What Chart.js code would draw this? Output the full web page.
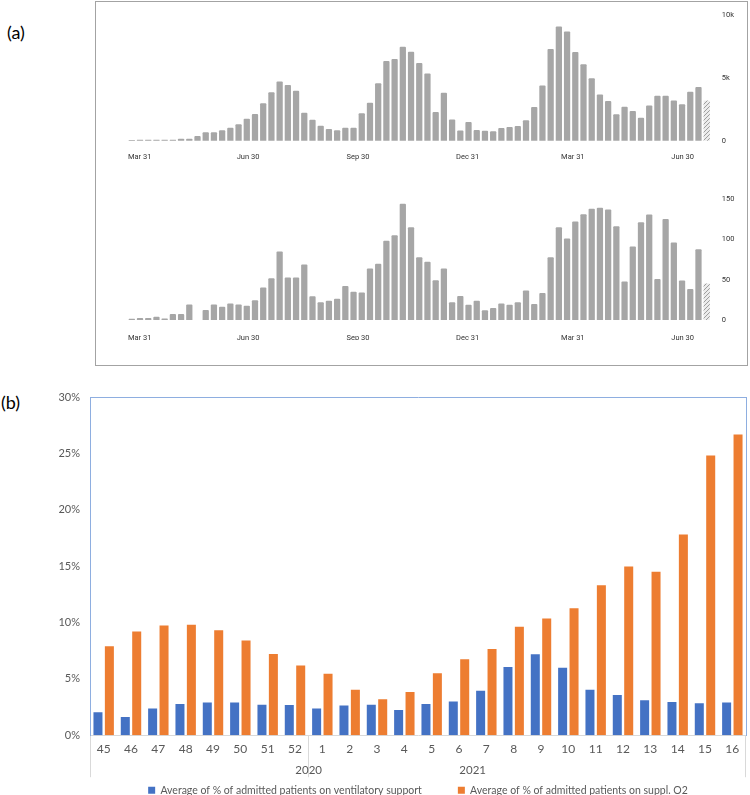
<!DOCTYPE html>
<html>
<head>
<meta charset="utf-8">
<script src="https://cdn.jsdelivr.net/npm/chart.js@4.4.0/dist/chart.umd.min.js"></script>
<style>
body { margin: 0; width: 750px; height: 795px; overflow: hidden; background: #fff; position: relative; font-family: Lato, sans-serif; }
.panel { position: absolute; font-size: 18px; color: #000; }
#boxA { position: absolute; left: 95px; top: 1px; width: 651px; height: 363px; border: 1.5px solid #a3a3a3; }
canvas { position: absolute; left: 0; }
</style>
</head>
<body>
<div class="panel" style="left:7px;top:21px">(a)</div>
<div class="panel" style="left:1px;top:391px">(b)</div>
<div id="boxA"></div>
<canvas id="casesChart" width="750" height="175" style="top:0px"></canvas>
<canvas id="icuChart" width="750" height="190" style="top:170px"></canvas>
<canvas id="oxygenChart" width="750" height="440" style="top:380px"></canvas>
<script>
// (a) weekly counts, one bar per week, last week is partial (hatched)
const weeklyCases = [ // thousands
 0.03, 0.05, 0.05, 0.05, 0.05, 0.05, 0.13, 0.13, 0.34, 0.65,
 0.65, 0.8, 1.0, 1.28, 1.72, 2.1, 2.97, 3.85, 4.7, 4.43,
 3.96, 2.2, 1.64, 1.17, 0.91, 0.8, 1.0, 1.0, 2.16, 3.0,
 4.56, 6.33, 6.5, 7.47, 7.08, 6.17, 5.34, 2.27, 3.8, 1.67,
 0.78, 1.46, 0.83, 0.76, 0.73, 0.99, 1.07, 1.15, 1.61, 2.66,
 4.38, 7.3, 9.1, 8.7, 7.06, 6.07, 4.97, 3.67, 3.15, 2.08,
 2.68, 2.34, 1.8, 2.79, 3.57, 3.57, 3.18, 2.89, 3.88, 4.27,
 3.18
]
const weeklyIcu = [
 1, 2, 2, 3.7, 1.6, 7, 7, 19, null, 12,
 19, 16, 20, 19, 17.4, 24, 40, 51.6, 84.7, 52.5,
 52.5, 68.6, 29, 21.5, 23.6, 26, 41.7, 34.7, 33.9, 63.6,
 69.4, 98, 105, 144, 115, 77.7, 72, 49, 63.6, 21.5,
 29.3, 18.6, 23.6, 11.6, 14.5, 20, 18.6, 21.5, 36.4, 19.4,
 33, 77.7, 115, 100.8, 122, 131, 138, 139, 137, 116,
 47.5, 91, 121, 130.6, 50.4, 125, 96, 48.8, 38, 87.6,
 45
]
const dateTickWeeks = [0.96, 14.15, 27.55, 40.89, 53.7, 67.07]
const dateTickLabels = ["Mar 31", "Jun 30", "Sep 30", "Dec 31", "Mar 31", "Jun 30"]

// (b) ISO weeks by year
const years = ["2020", "2021"]
const weeks2020 = [45, 46, 47, 48, 49, 50, 51, 52]
const weeks2021 = [1, 2, 3, 4, 5, 6, 7, 8, 9, 10, 11, 12, 13, 14, 15, 16]
const ventSupport = [2.04, 1.62, 2.36, 2.77, 2.89, 2.89, 2.71, 2.68,
 2.36, 2.63, 2.71, 2.24, 2.77, 3.0, 3.95, 6.05, 7.17, 5.99, 4.04, 3.57, 3.1, 2.95, 2.83, 2.89]
const supplO2 = [7.88, 9.2, 9.73, 9.79, 9.32, 8.41, 7.2, 6.19,
 5.46, 4.04, 3.2, 3.83, 5.5, 6.73, 7.64, 9.62, 10.35, 11.27, 13.3, 14.96, 14.5, 17.8, 24.8, 26.67]

const smallFont = { family: "Roboto", size: 7.5 }
const barGray = "#a6a6a6"

function hatch() {
 const c = document.createElement("canvas")
 c.width = 4
 c.height = 4
 const g = c.getContext("2d")
 g.fillStyle = "#ececec"
 g.fillRect(0, 0, 4, 4)
 g.strokeStyle = "#9e9e9e"
 g.lineWidth = 1
 g.beginPath()
 g.moveTo(0, 4)
 g.lineTo(4, 0)
 g.stroke()
 return g.createPattern(c, "repeat")
}
const lastWeekFill = hatch()

function weeklyChart(id, values, yMax, yStep, fmt, pad, tickPad) {
 return new Chart(document.getElementById(id), {
  type: "bar",
  data: {
   datasets: [{
    data: values.map((v, i) => ({ x: i, y: v })),
    backgroundColor: values.map((v, i) => i === values.length - 1 ? lastWeekFill : barGray),
    barThickness: 5.6,
    borderRadius: 1
   }]
  },
  options: {
   responsive: false,
   animation: false,
   layout: { padding: pad },
   plugins: { legend: { display: false }, tooltip: { enabled: false } },
   scales: {
    x: {
     type: "linear",
     offset: false,
     min: -0.5,
     max: values.length - 0.5,
     grid: { display: false, drawTicks: false },
     border: { display: false },
     afterBuildTicks: s => { s.ticks = dateTickWeeks.map(v => ({ value: v })) },
     afterFit: s => { s.height = 20 },
     ticks: {
      autoSkip: false,
      maxRotation: 0,
      padding: tickPad,
      color: "#333",
      font: smallFont,
      callback: v => dateTickLabels[dateTickWeeks.indexOf(v)]
     }
    },
    y: {
     position: "right",
     min: 0,
     max: yMax,
     grid: { display: false, drawTicks: false },
     border: { display: false },
     afterFit: s => { s.width = 30 },
     ticks: { stepSize: yStep, padding: 11, color: "#333", font: smallFont, callback: fmt }
    }
   }
  }
 })
}

weeklyChart("casesChart", weeklyCases, 10, 5, v => v === 0 ? "0" : v + "k",
 { left: 127.7, top: 12.3, right: 9.2, bottom: 14.3 }, 12)
weeklyChart("icuChart", weeklyIcu, 150, 50, v => v,
 { left: 127.7, top: 29.3, right: 9.2, bottom: 20 }, 13.5)

// (b)
const weekLabels = weeks2020.concat(weeks2021).map(String)
const yearBreak = weeks2020.length
const yearCenters = [weeks2020.length / 2, weeks2020.length + weeks2021.length / 2]
const frameBlue = "#8eaee0"
const axisGray = "#d9d9d9"
const textGray = "#595959"

new Chart(document.getElementById("oxygenChart"), {
 type: "bar",
 data: {
  labels: weekLabels,
  datasets: [{
   label: "Average of % of admitted patients on ventilatory support",
   data: ventSupport,
   backgroundColor: "#4472c4",
   xAxisID: "x",
   yAxisID: "y"
  }, {
   label: "Average of % of admitted patients on suppl. O2",
   data: supplO2,
   backgroundColor: "#ed7d31",
   xAxisID: "x",
   yAxisID: "y"
  }]
 },
 options: {
  responsive: false,
  animation: false,
  categoryPercentage: 0.835,
  barPercentage: 0.79,
  layout: { padding: { left: 0, right: 4, top: 17, bottom: 14.5 } },
  plugins: {
   tooltip: { enabled: false },
   legend: {
    position: "bottom",
    fullSize: false,
    labels: { boxWidth: 7, boxHeight: 7, padding: 36, color: textGray, font: { family: "Lato", size: 10.5 } }
   }
  },
  scales: {
   x: {
    type: "category",
    position: "bottom",
    weight: 0,
    grid: {
     drawOnChartArea: false,
     tickLength: 42,
     tickColor: c => (c.index === 0 || c.index === yearBreak || c.index === undefined) ? axisGray : "rgba(0,0,0,0)"
    },
    border: { color: axisGray },
    afterFit: s => { s.height = 13.8 },
    ticks: { autoSkip: false, maxRotation: 0, mirror: true, padding: -21.5, color: textGray, font: { family: "Lato", size: 12 } }
   },
   x2: {
    type: "linear",
    position: "bottom",
    weight: 1,
    min: 0,
    max: weekLabels.length,
    grid: { display: false, drawTicks: false },
    border: { display: false },
    afterBuildTicks: s => { s.ticks = yearCenters.map(v => ({ value: v })) },
    afterFit: s => { s.height = 0 },
    ticks: {
     autoSkip: false,
     maxRotation: 0,
     mirror: true,
     padding: -28.4,
     color: textGray,
     font: { family: "Lato", size: 11.5 },
     callback: v => years[yearCenters.indexOf(v)]
    }
   },
   xTop: {
    type: "category",
    position: "top",
    grid: { display: false, drawTicks: false },
    ticks: { display: false },
    border: { color: frameBlue }
   },
   y: {
    position: "left",
    min: 0,
    max: 30,
    grid: { display: false, drawTicks: false },
    border: { color: frameBlue },
    afterFit: s => { s.width = 90 },
    ticks: { stepSize: 5, padding: 10, color: textGray, font: { family: "Lato", size: 11 }, callback: v => v + "%" }
   },
   yRight: {
    position: "right",
    min: 0,
    max: 30,
    grid: { display: false, drawTicks: false },
    ticks: { display: false },
    border: { color: frameBlue }
   }
  }
 }
})
</script>
</body>
</html>
